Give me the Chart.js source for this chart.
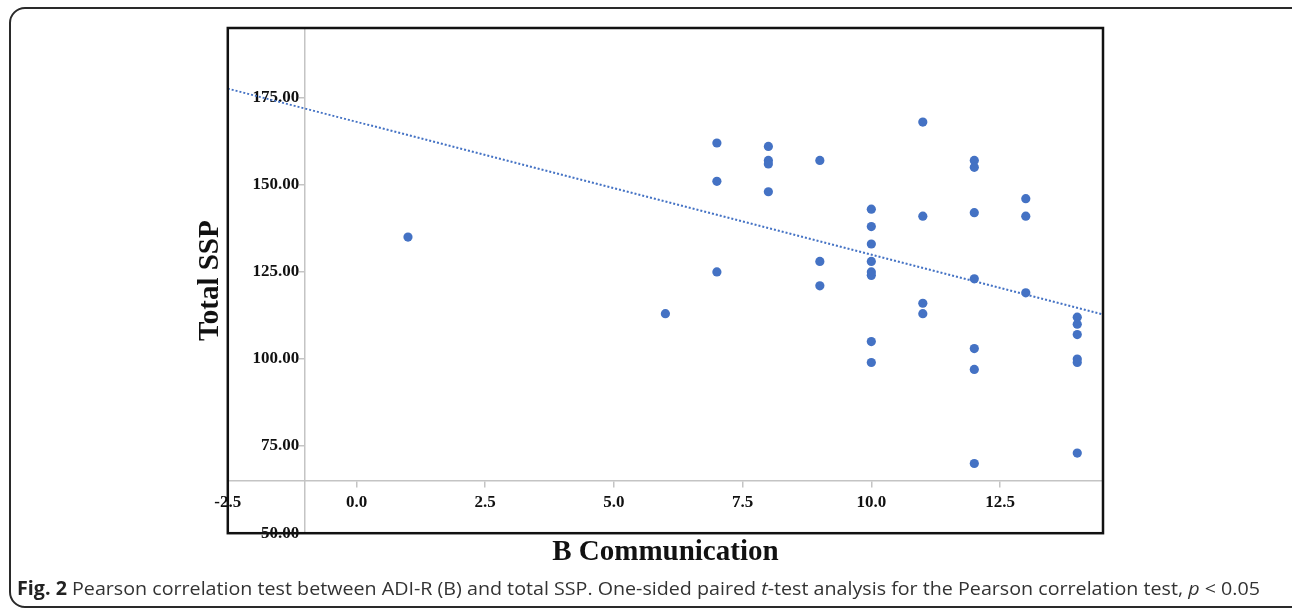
<!DOCTYPE html>
<html>
<head>
<meta charset="utf-8">
<script src="https://cdn.jsdelivr.net/npm/chart.js@4.4.1/dist/chart.umd.min.js"></script>
<style>
  html, body { margin: 0; padding: 0; background: #fff; overflow: hidden; }
  #wrap { position: absolute; left: 0; top: 0; width: 1292px; height: 609px; }
  #frame { position: absolute; left: 9px; top: 7px; width: 1300px; height: 601px;
           border: 2px solid #2a2a2a; border-radius: 16px; box-sizing: border-box; }
  #chart { position: absolute; left: 0; top: 0; }
  #caption { position: absolute; left: 17px; top: 575px; white-space: nowrap;
             font-family: "Open Sans", "Noto Sans", sans-serif; font-size: 19px; color: #333;
             transform-origin: 0 0; }
  #caption b { color: #222; }
</style>
</head>
<body>
<div id="wrap">
  <div id="frame"></div>
  <canvas id="chart" width="1292" height="609"></canvas>
  <div id="caption"><b>Fig. 2</b> Pearson correlation test between ADI-R (B) and total SSP. One-sided paired <i>t</i>-test analysis for the Pearson correlation test, <i>p</i> &lt; 0.05</div>
</div>
<script>
// ---- data ----
const bCommunication = [1, 6,
  7, 7, 7,
  8, 8, 8, 8,
  9, 9, 9,
  10, 10, 10, 10, 10, 10, 10, 10,
  11, 11, 11, 11,
  12, 12, 12, 12, 12, 12, 12,
  13, 13, 13,
  14, 14, 14, 14, 14, 14];
const totalSSP = [135, 113,
  162, 151, 125,
  161, 157, 156, 148,
  157, 128, 121,
  143, 138, 133, 128, 125, 124, 105, 99,
  168, 141, 116, 113,
  157, 155, 142, 123, 103, 97, 70,
  146, 141, 119,
  112, 110, 107, 100, 99, 73];
const trendX = [-2.5, 14.5];
const trendY = [177.6, 112.8];
const xTicks = [-2.5, 0, 2.5, 5, 7.5, 10, 12.5];
const yTicks = [50, 75, 100, 125, 150, 175];
const xRange = [-2.5, 14.5];
const yRange = [50, 195];
const xAxisCrossY = 65;
const yAxisCrossX = -1;

const BLUE = '#4472C4';
const tickFont = { family: 'Liberation Serif', size: 17, weight: 'bold' };

const points = bCommunication.map((x, i) => ({ x: x, y: totalSSP[i] }));
const trend = trendX.map((x, i) => ({ x: x, y: trendY[i] }));

const plotBorder = {
  id: 'plotBorder',
  afterDraw(chart) {
    const a = chart.chartArea, ctx = chart.ctx;
    ctx.save();
    ctx.strokeStyle = '#111';
    ctx.lineWidth = 2.5;
    ctx.strokeRect(a.left, a.top, a.right - a.left, a.bottom - a.top);
    ctx.restore();
  }
};

new Chart(document.getElementById('chart'), {
  type: 'scatter',
  data: {
    datasets: [
      {
        label: 'Total SSP',
        data: points,
        backgroundColor: BLUE,
        borderColor: BLUE,
        borderWidth: 0,
        pointRadius: 4.6,
        order: 1
      },
      {
        type: 'line',
        label: 'Linear trend',
        data: trend,
        borderColor: BLUE,
        borderWidth: 2,
        borderDash: [2, 2],
        pointRadius: 0,
        fill: false,
        order: 2
      }
    ]
  },
  options: {
    responsive: false,
    devicePixelRatio: 1,
    animation: false,
    events: [],
    layout: { padding: { left: 193, right: 189, top: 28, bottom: 39 } },
    plugins: {
      legend: { display: false },
      tooltip: { enabled: false },
      title: {
        display: true, text: 'Total SSP', position: 'left', fullSize: false,
        color: '#111', padding: 0,
        font: { family: 'Liberation Serif', size: 29, weight: 'bold', lineHeight: 1.2 }
      },
      subtitle: {
        display: true, text: 'B Communication', position: 'bottom', fullSize: false,
        color: '#111', padding: { top: 2, bottom: 0 },
        font: { family: 'Liberation Serif', size: 29, weight: 'bold', lineHeight: 1.2 }
      }
    },
    scales: {
      x: {
        type: 'linear', min: xRange[0], max: xRange[1],
        position: { y: xAxisCrossY },
        afterBuildTicks: (s) => { s.ticks = xTicks.map(v => ({ value: v })); },
        grid: { display: true, drawOnChartArea: false, drawTicks: true, tickLength: 6, color: '#c4c4c4', lineWidth: 1.5 },
        border: { display: true, color: '#c4c4c4', width: 1.5 },
        ticks: { font: tickFont, color: '#111', padding: 5, maxRotation: 0, autoSkip: false,
                 callback: (v) => Number(v).toFixed(1) }
      },
      y: {
        type: 'linear', min: yRange[0], max: yRange[1],
        position: { x: yAxisCrossX },
        afterBuildTicks: (s) => { s.ticks = yTicks.map(v => ({ value: v })); },
        grid: { display: true, drawOnChartArea: false, drawTicks: true, tickLength: 5, color: '#c4c4c4', lineWidth: 1.5 },
        border: { display: true, color: '#c4c4c4', width: 1.5 },
        ticks: { font: tickFont, color: '#111', padding: 8, autoSkip: false,
                 callback: (v) => Number(v).toFixed(2) + ' \u200A' }
      }
    }
  },
  plugins: [plotBorder]
});

// fit caption to reference width
const cap = document.getElementById('caption');
const w = cap.getBoundingClientRect().width;
cap.style.transform = 'scaleX(' + (1243 / w) + ')';
</script>
</body>
</html>
